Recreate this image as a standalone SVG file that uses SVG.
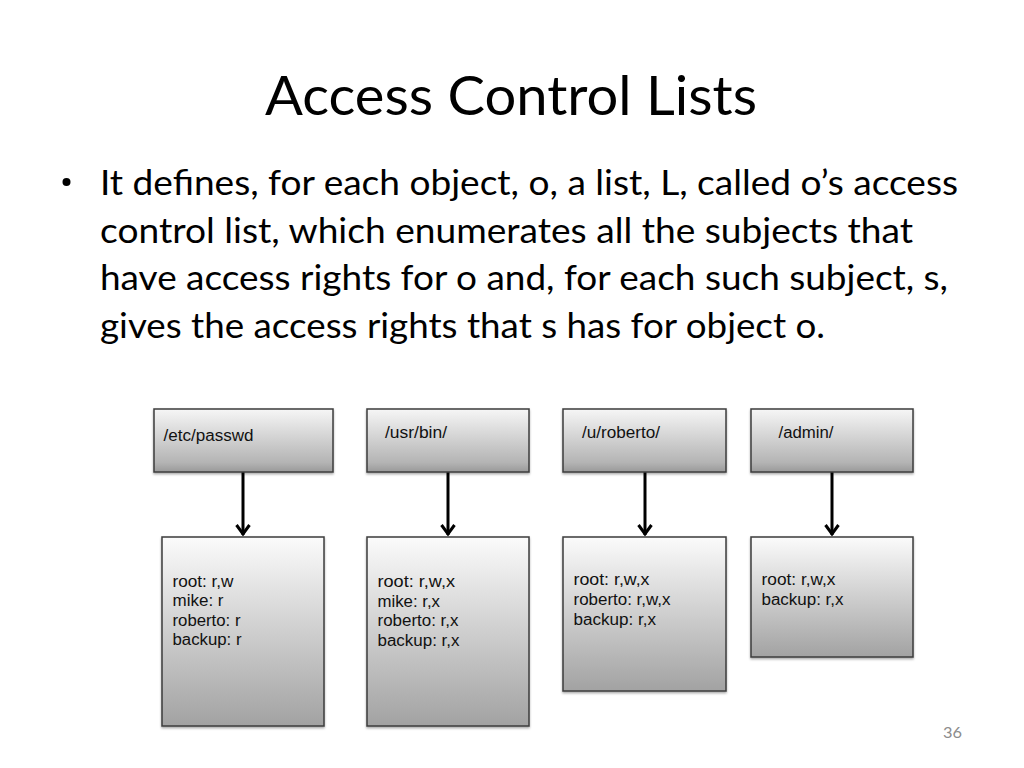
<svg xmlns="http://www.w3.org/2000/svg" width="1024" height="768" viewBox="0 0 1024 768">
  <defs>
    <style>
      .title { font-family: Lato, "Open Sans", "Liberation Sans", sans-serif; font-size: 54px; fill: #000; }
      .body { font-family: Lato, "Open Sans", "Liberation Sans", sans-serif; font-size: 35px; fill: #000; }
      .lbl { font-family: "Liberation Sans", Arial, sans-serif; font-size: 16px; fill: #111; }
      .pg { font-family: Lato, "Liberation Sans", sans-serif; font-size: 16px; fill: #8c8c8c; }
      .top { fill: url(#gTop); stroke: #3c3c3c; stroke-width: 1.5; filter: url(#sh); }
      .acl { fill: url(#gAcl); stroke: #3c3c3c; stroke-width: 1.5; filter: url(#sh); }
      .conn { stroke: #000; stroke-width: 3; fill: none; marker-end: url(#arr); }
    </style>
    <linearGradient id="gTop" x1="0" y1="0" x2="0" y2="1">
      <stop offset="0" stop-color="#f6f6f6"/>
      <stop offset="0.85" stop-color="#b4b4b4"/>
      <stop offset="1" stop-color="#999999"/>
    </linearGradient>
    <linearGradient id="gAcl" x1="0" y1="0" x2="0" y2="1">
      <stop offset="0" stop-color="#fbfbfb"/>
      <stop offset="1" stop-color="#a2a2a2"/>
    </linearGradient>
    <filter id="sh" x="-10%" y="-10%" width="120%" height="120%">
      <feDropShadow dx="0" dy="1.5" stdDeviation="1.2" flood-color="#000" flood-opacity="0.35"/>
    </filter>
    <marker id="arr" markerWidth="16" markerHeight="18" viewBox="-13 -9 16 18" refX="0" refY="0" orient="auto" markerUnits="userSpaceOnUse">
      <path d="M-10,-6.5 L-1,0 L-10,6.5" fill="none" stroke="#000" stroke-width="3"/>
    </marker>
  </defs>
  <rect width="1024" height="768" fill="#fff"/>

  <text class="title" x="265" y="115" textLength="492" lengthAdjust="spacingAndGlyphs">Access Control Lists</text>

  <g id="bullet">
    <circle cx="66.5" cy="182" r="4" fill="#000"/>
    <text class="body" x="100" y="195" textLength="858" lengthAdjust="spacingAndGlyphs">It defines, for each object, o, a list, L, called o’s access</text>
    <text class="body" x="100" y="242.5" textLength="813" lengthAdjust="spacingAndGlyphs">control list, which enumerates all the subjects that</text>
    <text class="body" x="100" y="290" textLength="848" lengthAdjust="spacingAndGlyphs">have access rights for o and, for each such subject, s,</text>
    <text class="body" x="100" y="337.5" textLength="725" lengthAdjust="spacingAndGlyphs">gives the access rights that s has for object o.</text>
  </g>

  <g id="connectors">
    <line class="conn" x1="243" y1="472" x2="243" y2="535"/>
    <line class="conn" x1="448" y1="472" x2="448" y2="535"/>
    <line class="conn" x1="645" y1="472" x2="645" y2="535"/>
    <line class="conn" x1="832" y1="472" x2="832" y2="535"/>
  </g>

  <g id="obj-etc-passwd">
    <rect class="top" x="154" y="409" width="179" height="63"/>
    <text class="lbl" x="163.5" y="441" textLength="90" lengthAdjust="spacingAndGlyphs">/etc/passwd</text>
  </g>
  <g id="obj-usr-bin">
    <rect class="top" x="367" y="409" width="162" height="63"/>
    <text class="lbl" x="385" y="438" textLength="62" lengthAdjust="spacingAndGlyphs">/usr/bin/</text>
  </g>
  <g id="obj-u-roberto">
    <rect class="top" x="563" y="409" width="163" height="63"/>
    <text class="lbl" x="582" y="438" textLength="78" lengthAdjust="spacingAndGlyphs">/u/roberto/</text>
  </g>
  <g id="obj-admin">
    <rect class="top" x="751" y="409" width="162" height="63"/>
    <text class="lbl" x="778.5" y="438" textLength="55" lengthAdjust="spacingAndGlyphs">/admin/</text>
  </g>

  <g id="acl-etc-passwd">
    <rect class="acl" x="162" y="537" width="162" height="189"/>
    <text class="lbl" x="172.5" y="586.5" textLength="61" lengthAdjust="spacingAndGlyphs">root: r,w</text>
    <text class="lbl" x="172.5" y="606" textLength="51" lengthAdjust="spacingAndGlyphs">mike: r</text>
    <text class="lbl" x="172.5" y="625.5" textLength="68" lengthAdjust="spacingAndGlyphs">roberto: r</text>
    <text class="lbl" x="172.5" y="645" textLength="69" lengthAdjust="spacingAndGlyphs">backup: r</text>
  </g>
  <g id="acl-usr-bin">
    <rect class="acl" x="367" y="537" width="162" height="189"/>
    <text class="lbl" x="377.5" y="587" textLength="77.5" lengthAdjust="spacingAndGlyphs">root: r,w,x</text>
    <text class="lbl" x="377.5" y="606.5" textLength="62.5" lengthAdjust="spacingAndGlyphs">mike: r,x</text>
    <text class="lbl" x="377.5" y="626" textLength="81" lengthAdjust="spacingAndGlyphs">roberto: r,x</text>
    <text class="lbl" x="377.5" y="645.5" textLength="82" lengthAdjust="spacingAndGlyphs">backup: r,x</text>
  </g>
  <g id="acl-u-roberto">
    <rect class="acl" x="563" y="537" width="163" height="154"/>
    <text class="lbl" x="573.5" y="585" textLength="76" lengthAdjust="spacingAndGlyphs">root: r,w,x</text>
    <text class="lbl" x="573.5" y="605" textLength="97" lengthAdjust="spacingAndGlyphs">roberto: r,w,x</text>
    <text class="lbl" x="573.5" y="625" textLength="82.5" lengthAdjust="spacingAndGlyphs">backup: r,x</text>
  </g>
  <g id="acl-admin">
    <rect class="acl" x="751" y="537" width="162" height="120"/>
    <text class="lbl" x="761.5" y="585" textLength="74" lengthAdjust="spacingAndGlyphs">root: r,w,x</text>
    <text class="lbl" x="761.5" y="605" textLength="82" lengthAdjust="spacingAndGlyphs">backup: r,x</text>
  </g>

  <text class="pg" x="943" y="738" textLength="19" lengthAdjust="spacingAndGlyphs">36</text>
</svg>
